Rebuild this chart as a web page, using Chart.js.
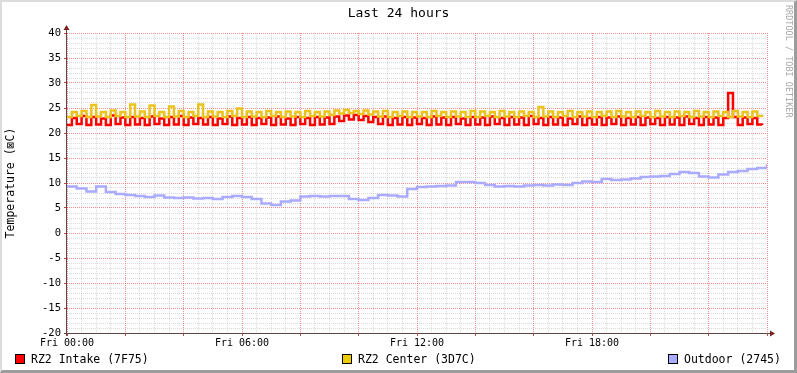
<!DOCTYPE html>
<html>
<head>
<meta charset="utf-8">
<script src="https://cdn.jsdelivr.net/npm/chart.js@4/dist/chart.umd.min.js"></script>
<style>
  body { margin: 0; background: #fff; }
  #wrap { position: relative; width: 797px; height: 373px; background: #fff; font-family: 'DejaVu Sans Mono', monospace; }
  #chart { position: absolute; left: 0; top: 0; }
  .title { position: absolute; left: 0; width: 797px; top: 5px; text-align: center; font-size: 13px; color: #000; }
  .wm { position: absolute; left: 794px; top: 5px; transform: rotate(90deg); transform-origin: 0 0; font-size: 8.5px; color: #a8a8a8; white-space: nowrap; }
  .item { position: absolute; top: 352px; font-size: 11.5px; color: #000; white-space: nowrap; line-height: 14px; }
  .item span { display: inline-block; width: 8px; height: 8px; border: 1px solid #000; margin-right: 6px; vertical-align: -1px; }
  .frame { position: absolute; left: 0; top: 0; width: 797px; height: 373px; box-sizing: border-box;
           border-top: 2px solid #dcdcdc; border-left: 2px solid #dcdcdc; border-right: 3px solid #9c9c9c; border-bottom: 3px solid #9c9c9c; pointer-events: none; }
</style>
</head>
<body>
<div id="wrap">
  <canvas id="chart" width="797" height="373"></canvas>
  <div class="title">Last 24 hours</div>
  <div class="wm">RRDTOOL / TOBI OETIKER</div>
  <div class="item" style="left:15px"><span style="background:#ff0000"></span>RZ2 Intake (7F75)</div>
  <div class="item" style="left:342px"><span style="background:#eacc00"></span>RZ2 Center (3D7C)</div>
  <div class="item" style="left:668px"><span style="background:#aaaaff"></span>Outdoor (2745)</div>
  <div class="frame"></div>
</div>
<script>
// values every 10 minutes, Fri 00:00 .. 23:50
const intake = [
  21.6, 23.0, 21.8, 23.4, 21.6, 23.2, 21.7, 22.9, 21.6, 23.5, 21.8, 23.1,
  21.6, 23.2, 21.7, 23.0, 21.6, 23.3, 21.8, 22.9, 21.6, 23.2, 21.7, 23.4,
  21.6, 23.1, 21.8, 23.0, 21.7, 23.2, 21.6, 22.9, 21.8, 23.3, 21.6, 23.0,
  21.7, 23.2, 21.6, 23.0, 21.8, 23.1, 21.6, 23.3, 21.7, 22.9, 21.6, 23.2,
  21.8, 23.0, 21.6, 23.2, 21.7, 23.1, 21.8, 23.3, 22.4, 23.5, 22.7, 23.6,
  22.6, 23.4, 22.2, 23.2, 21.8, 23.3, 21.6, 23.0, 21.7, 23.2, 21.6, 23.1,
  21.8, 23.0, 21.6, 23.3, 21.7, 23.1, 21.6, 23.2, 21.8, 22.9, 21.6, 23.2,
  21.7, 23.1, 21.6, 23.3, 21.8, 23.0, 21.6, 23.2, 21.7, 23.1, 21.6, 23.4,
  21.8, 23.0, 21.6, 23.2, 21.7, 23.1, 21.6, 22.9, 21.8, 23.3, 21.6, 23.0,
  21.7, 23.2, 21.6, 23.1, 21.8, 23.3, 21.6, 23.0, 21.7, 23.2, 21.6, 23.1,
  21.8, 23.0, 21.6, 23.2, 21.7, 23.1, 21.6, 23.3, 21.8, 23.0, 21.6, 23.2,
  21.7, 23.1, 21.6, 23.0, 28.0, 23.2, 21.6, 23.1, 21.8, 23.0, 21.7, 21.6
];
const center = [
  23.2, 24.2, 23.4, 24.4, 23.2, 25.6, 23.3, 24.2, 23.2, 24.5, 23.4, 24.2,
  23.2, 25.7, 23.3, 24.3, 23.2, 25.5, 23.4, 24.2, 23.2, 25.3, 23.3, 24.4,
  23.2, 24.2, 23.4, 25.7, 23.2, 24.3, 23.3, 24.2, 23.2, 24.4, 23.4, 24.9,
  23.2, 24.3, 23.3, 24.2, 23.2, 24.4, 23.4, 24.2, 23.2, 24.3, 23.3, 24.2,
  23.2, 24.4, 23.4, 24.2, 23.3, 24.3, 23.6, 24.5, 23.9, 24.6, 24.0, 24.4,
  23.8, 24.5, 23.7, 24.3, 23.3, 24.4, 23.2, 24.2, 23.4, 24.3, 23.2, 24.2,
  23.3, 24.2, 23.2, 24.4, 23.4, 24.2, 23.2, 24.3, 23.3, 24.2, 23.2, 24.4,
  23.2, 24.3, 23.4, 24.2, 23.2, 24.4, 23.3, 24.2, 23.2, 24.3, 23.4, 24.2,
  23.2, 25.2, 23.3, 24.3, 23.2, 24.2, 23.4, 24.4, 23.2, 24.2, 23.3, 24.3,
  23.2, 24.2, 23.4, 24.3, 23.2, 24.4, 23.3, 24.2, 23.2, 24.3, 23.4, 24.2,
  23.2, 24.4, 23.3, 24.2, 23.2, 24.3, 23.4, 24.2, 23.2, 24.4, 23.3, 24.2,
  23.2, 24.3, 23.4, 24.2, 23.2, 24.4, 23.3, 24.2, 23.2, 24.3, 23.4, 23.2
];
// outdoor every 20 minutes, Fri 00:00 .. Sat 00:00
const outdoor = [
  9.3, 8.9, 8.3, 9.3, 8.2, 7.8, 7.6, 7.4, 7.2, 7.5, 7.1, 7.0,
  7.1, 6.9, 7.0, 6.8, 7.2, 7.4, 7.2, 6.8, 5.9, 5.6, 6.3, 6.5,
  7.3, 7.4, 7.3, 7.4, 7.4, 6.8, 6.6, 7.0, 7.6, 7.5, 7.3, 8.8,
  9.2, 9.3, 9.4, 9.5, 10.2, 10.2, 10.0, 9.6, 9.3, 9.4, 9.3, 9.5,
  9.6, 9.5, 9.7, 9.6, 10.0, 10.3, 10.2, 10.8, 10.6, 10.7, 10.9, 11.2,
  11.3, 11.4, 11.8, 12.2, 12.0, 11.3, 11.1, 11.7, 12.2, 12.4, 12.8, 13.0,
  13.7
];
const intakeStep = 10;
const outdoorStep = 20;
const xTickMinutes = [0, 360, 720, 1080];
const xTickLabels = ['Fri 00:00', 'Fri 06:00', 'Fri 12:00', 'Fri 18:00'];

const toPoints = (arr, step) => arr.map((v, i) => ({ x: i * step, y: v }));

const MINOR = 'rgba(140,140,140,0.32)';
const MAJOR = 'rgba(230,70,70,0.6)';

// axis lines with arrow heads, like rrdtool
const axisArrows = {
  id: 'axisArrows',
  afterDraw(chart) {
    const { ctx, chartArea: a } = chart;
    ctx.save();
    ctx.strokeStyle = '#5c4646';
    ctx.lineWidth = 1;
    ctx.beginPath();
    ctx.moveTo(a.left - 3, a.bottom + 0.5);
    ctx.lineTo(a.right + 4, a.bottom + 0.5);
    ctx.moveTo(a.left - 0.5, a.bottom + 3);
    ctx.lineTo(a.left - 0.5, a.top - 4);
    ctx.stroke();
    ctx.fillStyle = '#7f1f1f';
    ctx.beginPath();
    ctx.moveTo(a.right + 8, a.bottom + 0.5);
    ctx.lineTo(a.right + 3, a.bottom - 2.5);
    ctx.lineTo(a.right + 3, a.bottom + 3.5);
    ctx.closePath();
    ctx.fill();
    ctx.beginPath();
    ctx.moveTo(a.left - 0.5, a.top - 8);
    ctx.lineTo(a.left - 3.5, a.top - 3);
    ctx.lineTo(a.left + 2.5, a.top - 3);
    ctx.closePath();
    ctx.fill();
    ctx.restore();
  }
};

new Chart(document.getElementById('chart'), {
  type: 'line',
  data: {
    datasets: [
      { label: 'RZ2 Center (3D7C)', data: toPoints(center, intakeStep), borderColor: '#eac41c', order: 1 },
      { label: 'RZ2 Intake (7F75)', data: toPoints(intake, intakeStep), borderColor: '#ff0000', order: 2 },
      { label: 'Outdoor (2745)', data: toPoints(outdoor, outdoorStep), borderColor: '#aaaaff', order: 3 }
    ]
  },
  options: {
    responsive: false,
    animation: false,
    layout: { padding: { left: 0, top: 33, right: 30, bottom: 20 } },
    elements: {
      point: { radius: 0 },
      line: { borderWidth: 2.5, stepped: 'before', tension: 0, borderJoinStyle: 'miter' }
    },
    plugins: { legend: { display: false }, tooltip: { enabled: false } },
    scales: {
      x: {
        type: 'linear',
        min: 0,
        max: 1440,
        afterFit: (s) => { s.height = 20; },
        afterBuildTicks: (s) => { s.ticks = []; for (let m = 0; m <= 1440; m += 30) s.ticks.push({ value: m }); },
        ticks: {
          autoSkip: false,
          maxRotation: 0,
          padding: 1,
          color: '#000',
          font: { family: 'DejaVu Sans Mono', size: 10 },
          callback: (v) => { const k = xTickMinutes.indexOf(v); return k >= 0 ? xTickLabels[k] : ''; }
        },
        grid: {
          color: (c) => (c.tick && c.tick.value % 120 === 0 ? MAJOR : MINOR),
          tickColor: (c) => (c.tick && c.tick.value % 120 === 0 ? '#c04848' : 'rgba(0,0,0,0)'),
          tickLength: 3,
          lineWidth: 1
        },
        border: { display: false, dash: [1, 1] }
      },
      y: {
        min: -20,
        max: 40,
        afterFit: (s) => { s.width = 67; },
        afterBuildTicks: (s) => { s.ticks = []; for (let v = -20; v <= 40; v += 1) s.ticks.push({ value: v }); },
        ticks: {
          autoSkip: false,
          padding: 3,
          color: '#000',
          font: { family: 'DejaVu Sans Mono', size: 10.5 },
          callback: (v) => (v % 5 === 0 ? String(v) : '')
        },
        grid: {
          color: (c) => (c.tick && c.tick.value % 5 === 0 ? MAJOR : MINOR),
          tickColor: (c) => (c.tick && c.tick.value % 5 === 0 ? '#c04848' : 'rgba(0,0,0,0)'),
          tickLength: 3,
          lineWidth: 1
        },
        border: { display: false, dash: [1, 1] },
        title: {
          display: true,
          text: 'Temperature (⊠C)',
          color: '#000',
          font: { family: 'DejaVu Sans Mono', size: 11.5 },
          padding: { top: 4, bottom: 0 }
        }
      }
    }
  },
  plugins: [axisArrows]
});
</script>
</body>
</html>
